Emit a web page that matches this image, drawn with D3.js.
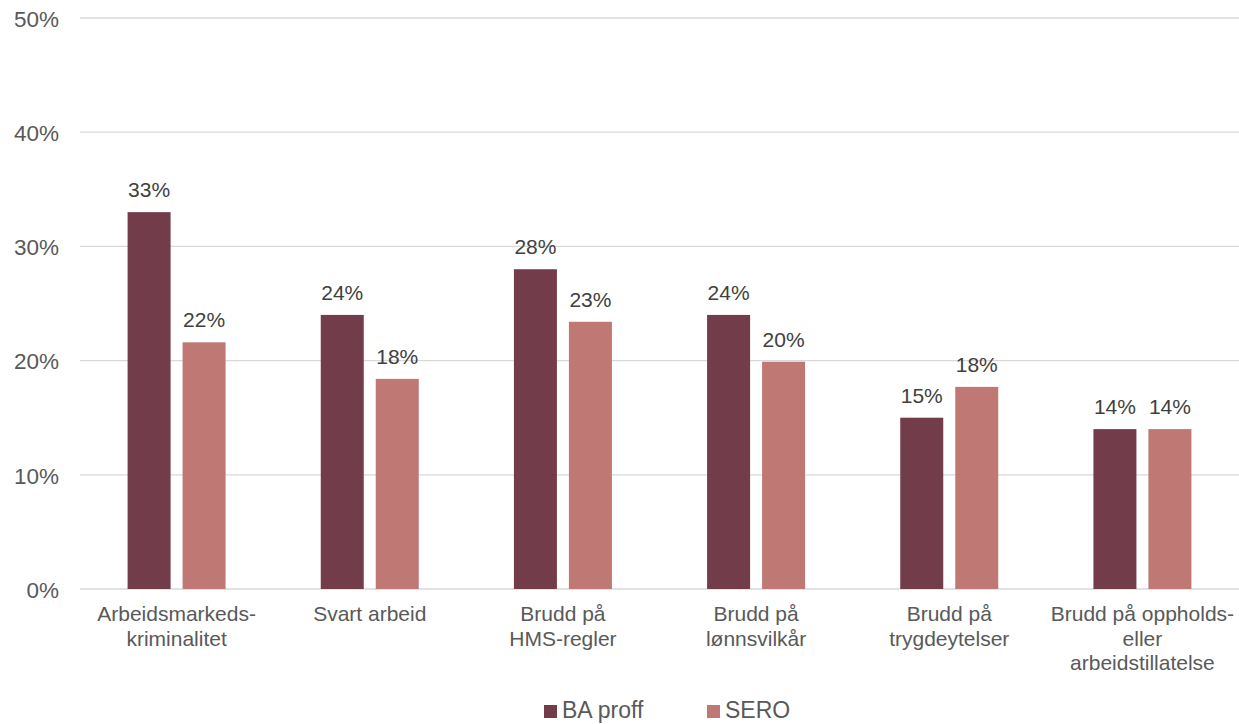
<!DOCTYPE html>
<html>
<head>
<meta charset="utf-8">
<script src="https://cdn.jsdelivr.net/npm/d3@7"></script>
<style>
  html, body { margin: 0; padding: 0; background: #fff; }
  svg { display: block; font-family: "Liberation Sans", Arial, sans-serif; }
</style>
</head>
<body>
<svg id="chart" width="1239" height="724"></svg>
<script>
// Categories (each entry is a list of label lines)
const categories = [
  ["Arbeidsmarkeds-", "kriminalitet"],
  ["Svart arbeid"],
  ["Brudd på", "HMS-regler"],
  ["Brudd på", "lønnsvilkår"],
  ["Brudd på", "trygdeytelser"],
  ["Brudd på oppholds-", "eller", "arbeidstillatelse"]
];
const seriesNames = ["BA proff", "SERO"];
const baProff = [0.33, 0.24, 0.28, 0.24, 0.15, 0.14];
const sero = [0.216, 0.184, 0.234, 0.199, 0.177, 0.14];
const yTicks = [0, 0.1, 0.2, 0.3, 0.4, 0.5];
const colors = ["#733C4A", "#BF7874"];

const svg = d3.select("#chart");
const plot = { left: 80, right: 1239, top: 18, bottom: 589 };

const keys = categories.map((c, i) => i);
const x0 = d3.scaleBand().domain(keys).range([plot.left, plot.right]).padding(0);
const groupW = 98;
const x1 = d3.scaleBand().domain(seriesNames).range([0, groupW]).paddingInner(0.218);
const y = d3.scaleLinear().domain([0, 0.5]).range([plot.bottom, plot.top]);

// Gridlines
svg.append("g").selectAll("line").data(yTicks).join("line")
  .attr("x1", plot.left).attr("x2", plot.right)
  .attr("y1", d => y(d)).attr("y2", d => y(d))
  .attr("stroke", "#d9d9d9").attr("stroke-width", 1.3);

// Y axis labels
const yAxis = d3.axisLeft(y).tickValues(yTicks).tickFormat(d3.format(".0%")).tickSize(0).tickPadding(0);
const yg = svg.append("g").attr("transform", `translate(59,1)`).call(yAxis);
yg.select(".domain").remove();
yg.selectAll("text").attr("font-size", 22.5).attr("fill", "#595959")
  .attr("font-family", "Liberation Sans, Arial, sans-serif");

// Bars
const rows = keys.map(i => ({ i, vals: [baProff[i], sero[i]] }));
const groups = svg.append("g").selectAll("g").data(rows).join("g")
  .attr("transform", d => `translate(${x0(d.i) + (x0.bandwidth() - groupW) / 2},0)`);

groups.selectAll("rect").data(d => d.vals.map((v, k) => ({ v, k }))).join("rect")
  .attr("x", d => x1(seriesNames[d.k]))
  .attr("width", x1.bandwidth())
  .attr("y", d => y(d.v))
  .attr("height", d => y(0) - y(d.v))
  .attr("fill", d => colors[d.k]);

groups.selectAll("text.val").data(d => d.vals.map((v, k) => ({ v, k }))).join("text")
  .attr("class", "val")
  .attr("x", d => x1(seriesNames[d.k]) + x1.bandwidth() / 2)
  .attr("y", d => y(d.v) - 15)
  .attr("text-anchor", "middle")
  .attr("font-size", 21)
  .attr("fill", "#404040")
  .text(d => d3.format(".0%")(d.v));

// Category labels
const cat = svg.append("g").selectAll("text").data(keys).join("text")
  .attr("x", i => x0(i) + x0.bandwidth() / 2)
  .attr("y", 621)
  .attr("text-anchor", "middle")
  .attr("font-size", 21)
  .attr("fill", "#595959");
cat.selectAll("tspan").data(i => categories[i].map(t => ({ t, x: x0(i) + x0.bandwidth() / 2 }))).join("tspan")
  .attr("x", d => d.x)
  .attr("dy", (d, j) => j === 0 ? 0 : 24.5)
  .text(d => d.t);

// Legend
const legendX = [544, 707];
const leg = svg.append("g").selectAll("g").data(seriesNames).join("g")
  .attr("transform", (d, k) => `translate(${legendX[k]},705)`);
leg.append("rect").attr("width", 13).attr("height", 13).attr("fill", (d, k) => colors[k]);
leg.append("text").attr("x", 18).attr("y", 13).attr("font-size", 23).attr("fill", "#595959").text(d => d);
</script>
</body>
</html>
